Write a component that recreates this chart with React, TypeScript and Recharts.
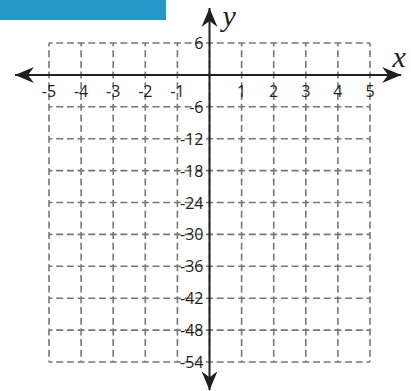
import { ScatterChart, Scatter, XAxis, YAxis, CartesianGrid, ReferenceLine } from "recharts";

const xTicks = [-5, -4, -3, -2, -1, 0, 1, 2, 3, 4, 5];
const yTicks = [6, 0, -6, -12, -18, -24, -30, -36, -42, -48, -54];

// how far the axis arrows reach past the grid (data units)
const xArrowEnds = [-6.06, 5.97];
const yArrowEnds = [-59.3, 12.6];

const xLabelPoints = xTicks.filter((v) => v !== 0).map((v) => ({ x: v, y: 0 }));
const yLabelPoints = yTicks.filter((v) => v !== 0).map((v) => ({ x: 0, y: v }));

const INK = "#231f20";
const labelFont = "'Open Sans', sans-serif";

function arrowHead(tx: number, ty: number, dx: number, dy: number) {
  const L = 19, W = 8, N = 13;
  const nx = -dy, ny = dx;
  const pts = [
    [tx, ty],
    [tx - L * dx + W * nx, ty - L * dy + W * ny],
    [tx - N * dx, ty - N * dy],
    [tx - L * dx - W * nx, ty - L * dy - W * ny],
  ];
  return <polygon points={pts.map((p) => p.join(",")).join(" ")} fill={INK} />;
}

function AxisArrow(props: any) {
  const { x1, y1, x2, y2, name } = props;
  const len = Math.hypot(x2 - x1, y2 - y1) || 1;
  const dx = (x2 - x1) / len, dy = (y2 - y1) / len;
  return (
    <g>
      <line x1={x1} y1={y1} x2={x2} y2={y2} stroke={INK} strokeWidth={2} />
      {arrowHead(x1, y1, -dx, -dy)}
      {arrowHead(x2, y2, dx, dy)}
      {name === "x" && (
        <text x={x2 - 2} y={y2 - 8} textAnchor="middle" fontFamily="'Liberation Serif', serif"
          fontStyle="italic" fontSize={30} fill={INK}>x</text>
      )}
      {name === "y" && (
        <text x={x2 + 13} y={y2 + 18} textAnchor="start" fontFamily="'Liberation Serif', serif"
          fontStyle="italic" fontSize={30} fill={INK}>y</text>
      )}
    </g>
  );
}

const noTick = () => <g />;

export default function App() {
  return (
    <div style={{ position: "absolute", left: 0, top: 0, width: 411, height: 391, background: "#fff" }}>
      <div style={{ position: "absolute", left: 0, top: 0, width: 166, height: 20, background: "#2697c6" }} />
      <ScatterChart width={411} height={391} margin={{ top: 43, right: 41, bottom: 29, left: 49 }}>
        <CartesianGrid
          stroke="#777"
          strokeWidth={1.6}
          strokeDasharray="7 3.7"
          strokeDashoffset={3.5}
          verticalValues={xTicks}
          horizontalValues={yTicks}
        />
        <XAxis type="number" dataKey="x" domain={[-5, 5]} ticks={xTicks} interval={0}
          height={0} tick={noTick} tickLine={false} axisLine={false} />
        <YAxis type="number" dataKey="y" domain={[-54, 6]} ticks={yTicks} interval={0}
          width={0} tick={noTick} tickLine={false} axisLine={false} />
        <ReferenceLine
          segment={[{ x: xArrowEnds[0], y: 0 }, { x: xArrowEnds[1], y: 0 }]}
          ifOverflow="visible"
          shape={(p: any) => <AxisArrow {...p} name="x" />}
        />
        <ReferenceLine
          segment={[{ x: 0, y: yArrowEnds[0] }, { x: 0, y: yArrowEnds[1] }]}
          ifOverflow="visible"
          shape={(p: any) => <AxisArrow {...p} name="y" />}
        />
        <Scatter
          data={xLabelPoints}
          isAnimationActive={false}
          shape={(p: any) => (
            <text x={p.cx} y={p.cy + 22} textAnchor="middle" fontFamily={labelFont} fontSize={16} fill={INK}>
              {String(p.payload.x)}
            </text>
          )}
        />
        <Scatter
          data={yLabelPoints}
          isAnimationActive={false}
          shape={(p: any) => (
            <text x={p.cx - 6} y={p.cy + 6} textAnchor="end" fontFamily={labelFont} fontSize={16} fill={INK}>
              {String(p.payload.y)}
            </text>
          )}
        />
      </ScatterChart>
    </div>
  );
}
